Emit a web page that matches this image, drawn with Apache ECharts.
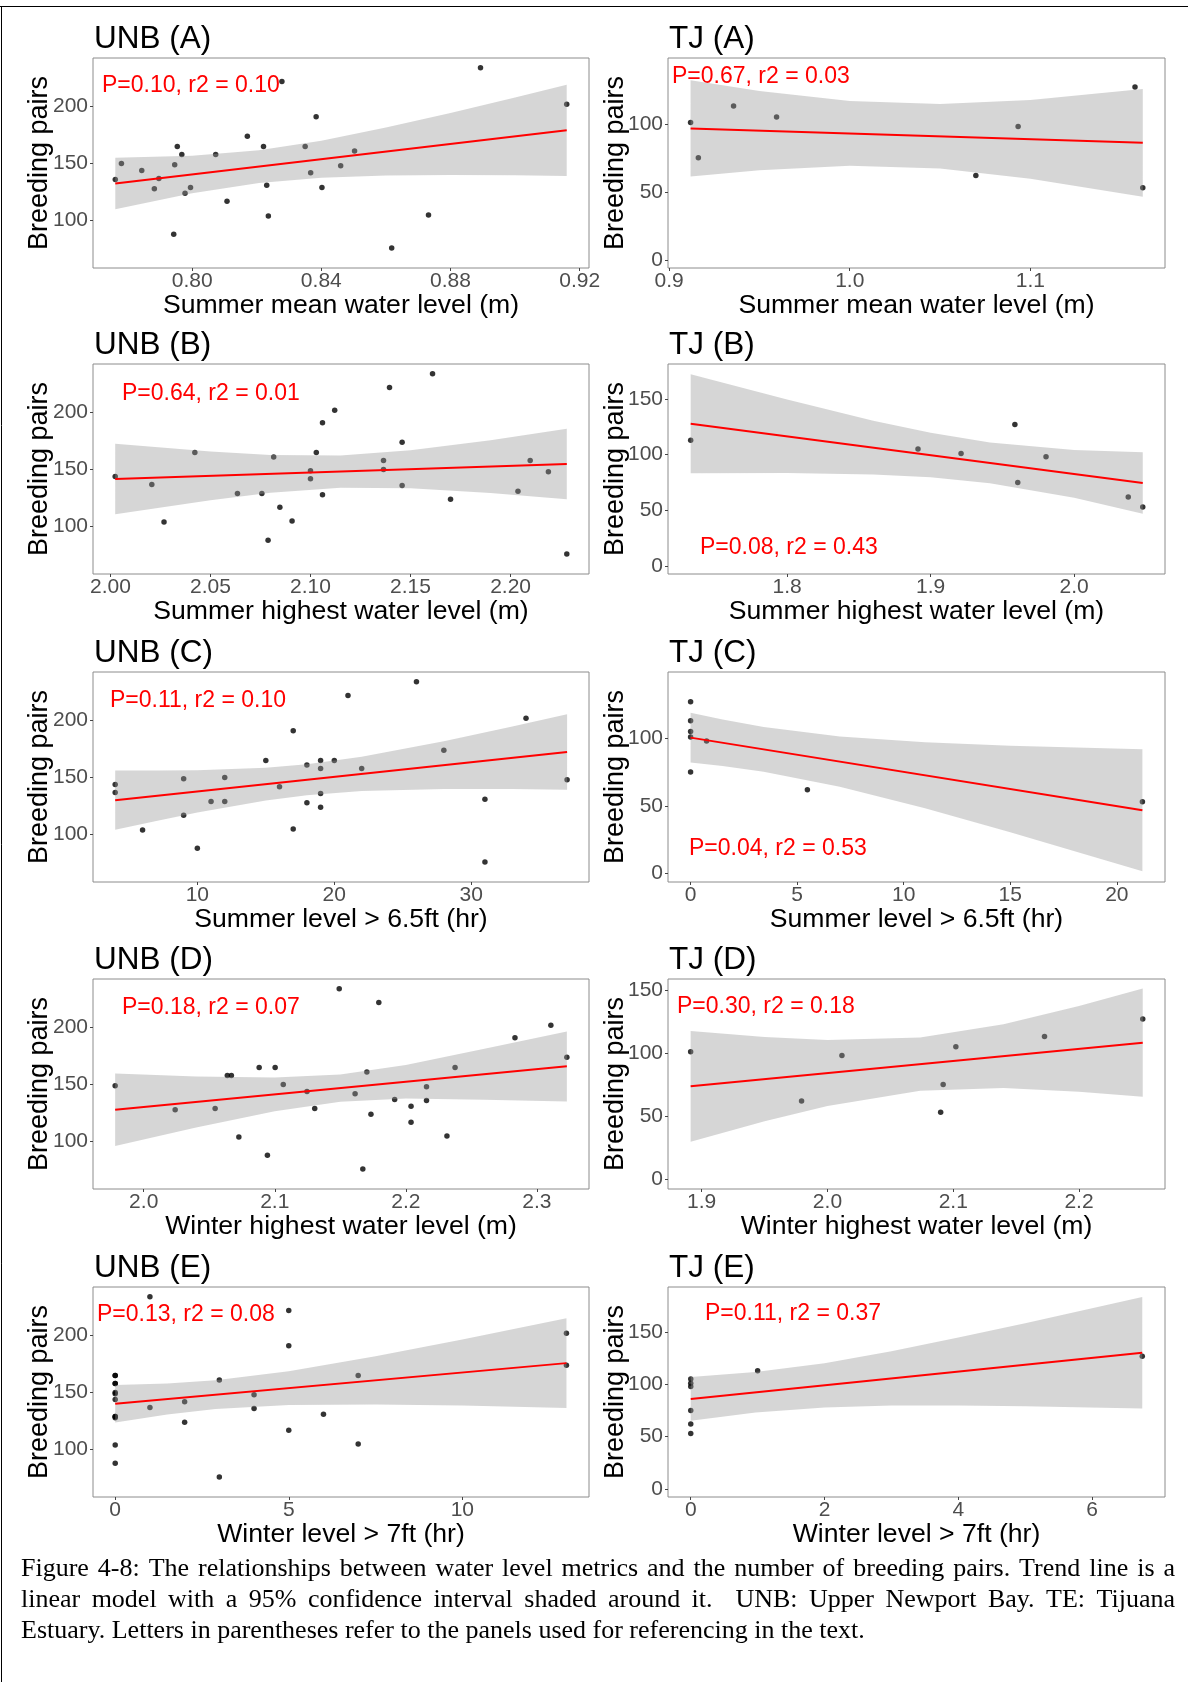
<!DOCTYPE html>
<html><head><meta charset="utf-8">
<script src="https://cdn.jsdelivr.net/npm/echarts@6/dist/echarts.min.js"></script>
<style>html,body{margin:0;padding:0;background:#fff}#c{width:1188px;height:1682px}</style>
</head><body><div id="c"></div><script>
// ---------------- DATA ----------------
// UNB (A) Summer mean water level
const unbA_x = [0.7762,0.7781,0.7844,0.7883,0.7897,0.7946,0.7954,0.7943,0.7968,0.7978,0.7995,0.8073,0.8108,0.8171,0.8221,0.8231,0.8236,0.8278,0.8350,0.8367,0.8384,0.8402,0.8460,0.8503,0.8618,0.8732,0.8893,0.9160];
const unbA_y = [136,150,144,128,137,149,165,88,158,124,129,158,117,174,165,131,104,222,165,142,191,129,148,161,76,105,234,202];
const unbA_fitX = [0.7762,0.916], unbA_fitY = [132.5,179.2];
const unbA_ciX = [0.7762,0.80,0.8207,0.84,0.86,0.88,0.90,0.916];
const unbA_ciHi = [155.1,156.9,161.7,170.0,181.5,194.4,207.8,219.0];
const unbA_ciLo = [109.9,123.9,132.9,137.6,139.5,140.0,139.8,139.2];
const unbA_xRange = [0.7693,0.9229], unbA_xTicks = [0.80,0.84,0.88,0.92];

// TJ (A)
const tjA_x = [0.9119,0.9162,0.9357,0.9595,1.0698,1.0932,1.1579,1.1622];
const tjA_y = [101,75,113,105,62,98,127,53];
const tjA_fitX = [0.9119,1.1622], tjA_fitY = [96.6,86.0];
const tjA_ciX = [0.9119,0.95,1.0,1.05,1.1,1.1622];
const tjA_ciHi = [131.9,124.1,116.7,114.5,117.5,125.5];
const tjA_ciLo = [61.3,65.9,69.1,67.1,59.7,46.5];
const tjA_xRange = [0.8994,1.1745], tjA_xTicks = [0.9,1.0,1.1];
const tjA_yRange = [-5.9,148.3], tjA_yTicks = [0,50,100];

// UNB (B) Summer highest water level
const unbB_x = [2.0024,2.0207,2.0268,2.0422,2.0635,2.0757,2.0788,2.0816,2.0847,2.0908,2.1000,2.1000,2.1029,2.1060,2.1060,2.1121,2.1365,2.1365,2.1395,2.1458,2.1458,2.1610,2.1700,2.2037,2.2098,2.2189,2.2281];
const unbB_y = [144,137,104,165,129,129,88,161,117,105,149,142,165,191,128,202,158,150,222,174,136,234,124,131,158,148,76];
const unbB_fitX = [2.0024,2.2281], unbB_fitY = [141.7,154.8];
const unbB_ciX = [2.0024,2.05,2.08,2.115,2.15,2.19,2.2281];
const unbB_ciHi = [172.6,165.8,162.8,162.4,166.9,175.7,185.7];
const unbB_ciLo = [110.8,123.2,129.6,134.0,133.7,129.5,123.9];
const unbB_xRange = [1.9913,2.2392], unbB_xTicks = [2.00,2.05,2.10,2.15,2.20];

// TJ (B)
const tjB_x = [1.7328,1.8912,1.9212,1.9587,1.9607,1.9804,2.0377,2.0478];
const tjB_y = [113,105,101,127,75,98,62,53];
const tjB_fitX = [1.7328,2.0478], tjB_fitY = [127.8,74.6];
const tjB_ciX = [1.7328,1.8,1.86,1.9,1.9413,2.0,2.0478];
const tjB_ciHi = [172.3,149.5,130.4,119.6,110.8,104.2,102.2];
const tjB_ciLo = [83.3,83.5,82.2,79.6,74.4,61.2,47.0];
const tjB_xRange = [1.717,2.0633], tjB_xTicks = [1.8,1.9,2.0];
const tjB_yRange = [-7.2,181.4], tjB_yTicks = [0,50,100,150];

// UNB (C) Summer level > 6.5ft
const unbC_x = [4,4,6,9,9,10,11,12,12,15,16,17,17,18,18,19,19,19,19,20,21,22,26,28,31,31,34,37];
const unbC_y = [144,137,104,149,117,88,129,150,129,165,142,191,105,161,128,165,158,136,124,165,222,158,234,174,131,76,202,148];
const unbC_fitX = [4,37], unbC_fitY = [130.2,172.4];
const unbC_ciX = [4,7,10,15,18,22,28,33,37];
const unbC_ciHi = [156.2,156.1,156.5,158.7,161.7,168.2,181.8,194.7,205.4];
const unbC_ciLo = [104.2,111.9,119.3,129.9,134.5,138.2,140.0,139.9,139.4];
const unbC_xRange = [2.38,38.6], unbC_xTicks = [10,20,30];

// TJ (C)
const tjC_x = [0,0,0,0,0.75,0,5.48,21.2];
const tjC_y = [127,113,105,101,98,75,62,53];
const tjC_fitX = [0,21.2], tjC_fitY = [100.5,46.7];
const tjC_ciX = [0,1.5,3.43,7,11,15,21.2];
const tjC_ciHi = [119.0,113.9,108.4,101.3,97.0,94.4,91.9];
const tjC_ciLo = [82.0,79.5,75.2,64.1,48.2,30.4,1.5];
const tjC_xRange = [-1.06,22.26], tjC_xTicks = [0,5,10,15,20];
const tjC_yRange = [-6.4,149.1], tjC_yTicks = [0,50,100];

// UNB (D) Winter highest water level
const unbD_x = [1.9782,2.0240,2.0545,2.0638,2.0669,2.0726,2.0881,2.0944,2.1003,2.1065,2.1246,2.1305,2.1492,2.1613,2.1672,2.1703,2.1734,2.1794,2.1915,2.2040,2.2040,2.2158,2.2158,2.2314,2.2376,2.2833,2.3107,2.3229];
const unbD_y = [149,128,129,158,158,104,165,88,165,150,144,129,234,142,76,161,124,222,137,131,117,148,136,105,165,191,202,174];
const unbD_fitX = [1.9782,2.3229], unbD_fitY = [127.9,166.0];
const unbD_ciX = [1.9782,2.04,2.10,2.15,2.20,2.26,2.3229];
const unbD_ciHi = [159.6,157.0,156.1,158.9,167.1,181.3,196.5];
const unbD_ciLo = [96.2,112.4,126.7,134.9,137.7,136.7,135.2];
const unbD_xRange = [1.9613,2.3398], unbD_xTicks = [2.0,2.1,2.2,2.3];

// TJ (D)
const tjD_x = [1.8912,1.9794,2.0115,2.0900,2.0920,2.1021,2.1726,2.2507];
const tjD_y = [101,62,98,53,75,105,113,127];
const tjD_fitX = [1.8912,2.2507], tjD_fitY = [73.6,108.2];
const tjD_ciX = [1.8912,1.95,2.0,2.0737,2.14,2.2,2.2507];
const tjD_ciHi = [117.4,112.7,110.2,112.2,122.7,137.2,151.0];
const tjD_ciLo = [29.8,45.9,58.0,70.2,72.3,69.4,65.4];
const tjD_xRange = [1.8732,2.2684], tjD_xTicks = [1.9,2.0,2.1,2.2];
const tjD_yRange = [-7.7,158.6], tjD_yTicks = [0,50,100,150];

// UNB (E) Winter level > 7ft
const unbE_x = [0,0,0,0,0,0,0,0,0,0,0,0,1,1,2,2,3,3,4,4,5,5,5,6,7,7,13,13];
const unbE_y = [165,165,158,158,150,149,144,129,129,128,104,88,234,137,142,124,161,76,148,136,222,191,117,131,165,105,202,174];
const unbE_fitX = [0,13], unbE_fitY = [140.2,175.8];
const unbE_ciX = [0,1.5,2.89,5,7.5,10,13];
const unbE_ciHi = [156.7,157.9,160.7,168.7,181.8,196.6,215.1];
const unbE_ciLo = [123.7,130.7,135.5,139.1,139.6,138.6,136.5];
const unbE_xRange = [-0.64,13.65], unbE_xTicks = [0,5,10];

// TJ (E)
const tjE_x = [0,0,0,0,0,0,1,6.75];
const tjE_y = [105,101,98,75,62,53,113,127];
const tjE_fitX = [0,6.75], tjE_fitY = [86.0,130.3];
const tjE_ciX = [0,0.969,2,3,4,5,6.75];
const tjE_ciHi = [107.0,111.7,120.3,131.7,144.8,158.5,183.7];
const tjE_ciLo = [65.0,73.1,77.9,79.7,79.8,79.1,76.9];
const tjE_xRange = [-0.34,7.09], tjE_xTicks = [0,2,4,6];
const tjE_yRange = [-7.9,193.2], tjE_yTicks = [0,50,100,150];

// shared UNB y axis
const unb_yRange = [58.5,242.5], unb_yTicks = [100,150,200];

const titles = ['UNB (A)','TJ (A)','UNB (B)','TJ (B)','UNB (C)','TJ (C)','UNB (D)','TJ (D)','UNB (E)','TJ (E)'];
const notes = ['P=0.10, r2 = 0.10','P=0.67, r2 = 0.03','P=0.64, r2 = 0.01','P=0.08, r2 = 0.43','P=0.11, r2 = 0.10','P=0.04, r2 = 0.53','P=0.18, r2 = 0.07','P=0.30, r2 = 0.18','P=0.13, r2 = 0.08','P=0.11, r2 = 0.37'];
const xNames = ['Summer mean water level (m)','Summer highest water level (m)','Summer level > 6.5ft (hr)','Winter highest water level (m)','Winter level > 7ft (hr)'];
const yName = 'Breeding pairs';
const captionLines = [
  'Figure 4-8: The relationships between water level metrics and the number of breeding pairs. Trend line is a',
  'linear model with a 95% confidence interval shaded around it.  UNB: Upper Newport Bay. TE: Tijuana',
  'Estuary. Letters in parentheses refer to the panels used for referencing in the text.'
];

// ---------------- PANEL ASSEMBLY ----------------
const panels = [
  {x:unbA_x,y:unbA_y,fx:unbA_fitX,fy:unbA_fitY,cx:unbA_ciX,ch:unbA_ciHi,cl:unbA_ciLo,xr:unbA_xRange,xt:unbA_xTicks,xd:2,yr:unb_yRange,yt:unb_yTicks},
  {x:tjA_x,y:tjA_y,fx:tjA_fitX,fy:tjA_fitY,cx:tjA_ciX,ch:tjA_ciHi,cl:tjA_ciLo,xr:tjA_xRange,xt:tjA_xTicks,xd:1,yr:tjA_yRange,yt:tjA_yTicks},
  {x:unbB_x,y:unbB_y,fx:unbB_fitX,fy:unbB_fitY,cx:unbB_ciX,ch:unbB_ciHi,cl:unbB_ciLo,xr:unbB_xRange,xt:unbB_xTicks,xd:2,yr:unb_yRange,yt:unb_yTicks},
  {x:tjB_x,y:tjB_y,fx:tjB_fitX,fy:tjB_fitY,cx:tjB_ciX,ch:tjB_ciHi,cl:tjB_ciLo,xr:tjB_xRange,xt:tjB_xTicks,xd:1,yr:tjB_yRange,yt:tjB_yTicks},
  {x:unbC_x,y:unbC_y,fx:unbC_fitX,fy:unbC_fitY,cx:unbC_ciX,ch:unbC_ciHi,cl:unbC_ciLo,xr:unbC_xRange,xt:unbC_xTicks,xd:0,yr:unb_yRange,yt:unb_yTicks},
  {x:tjC_x,y:tjC_y,fx:tjC_fitX,fy:tjC_fitY,cx:tjC_ciX,ch:tjC_ciHi,cl:tjC_ciLo,xr:tjC_xRange,xt:tjC_xTicks,xd:0,yr:tjC_yRange,yt:tjC_yTicks},
  {x:unbD_x,y:unbD_y,fx:unbD_fitX,fy:unbD_fitY,cx:unbD_ciX,ch:unbD_ciHi,cl:unbD_ciLo,xr:unbD_xRange,xt:unbD_xTicks,xd:1,yr:unb_yRange,yt:unb_yTicks},
  {x:tjD_x,y:tjD_y,fx:tjD_fitX,fy:tjD_fitY,cx:tjD_ciX,ch:tjD_ciHi,cl:tjD_ciLo,xr:tjD_xRange,xt:tjD_xTicks,xd:1,yr:tjD_yRange,yt:tjD_yTicks},
  {x:unbE_x,y:unbE_y,fx:unbE_fitX,fy:unbE_fitY,cx:unbE_ciX,ch:unbE_ciHi,cl:unbE_ciLo,xr:unbE_xRange,xt:unbE_xTicks,xd:0,yr:unb_yRange,yt:unb_yTicks},
  {x:tjE_x,y:tjE_y,fx:tjE_fitX,fy:tjE_fitY,cx:tjE_ciX,ch:tjE_ciHi,cl:tjE_ciLo,xr:tjE_xRange,xt:tjE_xTicks,xd:0,yr:tjE_yRange,yt:tjE_yTicks}
];

// ---------------- LAYOUT ----------------
const SANS = '"Liberation Sans", Arial, Helvetica, sans-serif';
const SERIF = '"Liberation Serif", "Times New Roman", serif';
const colLeft = [93, 668], colWidth = [496, 497];
const rowTop = [58, 364, 672, 979, 1287], gridH = 210;
const notePos = [[102,86],[672,77],[122,394],[700,548],[110,701],[689,849],[122,1008],[677,1007],[97,1315],[705,1314]];

const grids = [], xAxes = [], yAxes = [], series = [], graphics = [];

panels.forEach((p, i) => {
  const col = i % 2, row = Math.floor(i / 2);
  grids.push({left: colLeft[col], top: rowTop[row], width: colWidth[col], height: gridH,
    show: true, borderColor: '#8c8c8c', borderWidth: 1, backgroundColor: 'transparent', containLabel: false});
  xAxes.push({type: 'value', gridIndex: i, min: p.xr[0], max: p.xr[1], position: 'bottom',
    axisLine: {show: false, onZero: false}, splitLine: {show: false},
    axisTick: {show: true, inside: false, length: 3, lineStyle: {color: '#444'}, customValues: p.xt},
    axisLabel: {customValues: p.xt, formatter: v => Number(v).toFixed(p.xd), color: '#4d4d4d',
      fontSize: 21, fontFamily: SANS, margin: 3},
    name: xNames[row], nameLocation: 'middle', nameGap: 24, nameMoveOverlap: false,
    nameTextStyle: {fontSize: 26.6, color: '#000', fontFamily: SANS}});
  yAxes.push({type: 'value', gridIndex: i, min: p.yr[0], max: p.yr[1], position: 'left',
    axisLine: {show: false, onZero: false}, splitLine: {show: false},
    axisTick: {show: true, inside: false, length: 3, lineStyle: {color: '#444'}, customValues: p.yt},
    axisLabel: {customValues: p.yt, formatter: v => String(v), color: '#4d4d4d',
      fontSize: 21, fontFamily: SANS, margin: 5},
    name: yName, nameLocation: 'middle', nameGap: col === 0 ? 40 : 39, nameMoveOverlap: false,
    nameTextStyle: {fontSize: 27, color: '#000', fontFamily: SANS}});

  series.push({type: 'scatter', xAxisIndex: i, yAxisIndex: i, z: 1, silent: true,
    symbolSize: 5.5, itemStyle: {color: '#000'},
    data: p.x.map((v, k) => [v, p.y[k]])});
  series.push({type: 'custom', xAxisIndex: i, yAxisIndex: i, z: 2, silent: true,
    data: [[p.cx[0], p.cl[0]]],
    renderItem: (params, api) => {
      const pts = [];
      for (let k = 0; k < p.cx.length; k++) pts.push(api.coord([p.cx[k], p.ch[k]]));
      for (let k = p.cx.length - 1; k >= 0; k--) pts.push(api.coord([p.cx[k], p.cl[k]]));
      return {type: 'polygon', shape: {points: pts}, style: {fill: 'rgba(153,153,153,0.4)', stroke: null}};
    }});
  series.push({type: 'line', xAxisIndex: i, yAxisIndex: i, z: 3, silent: true,
    showSymbol: false, symbol: 'none', lineStyle: {color: '#ff0000', width: 2},
    data: p.fx.map((v, k) => [v, p.fy[k]])});

  // panel title
  graphics.push({type: 'text', x: colLeft[col] + 1, y: rowTop[row] - 19,
    style: {text: titles[i], fill: '#000', font: '31.5px ' + SANS,
      align: 'left', verticalAlign: 'middle', textAlign: 'left', textVerticalAlign: 'middle'}});
  // statistics annotation
  graphics.push({type: 'text', x: notePos[i][0], y: notePos[i][1],
    style: {text: notes[i], fill: '#ff0000', font: '23px ' + SANS,
      align: 'left', verticalAlign: 'middle', textAlign: 'left', textVerticalAlign: 'middle'}});
});

// outer frame (top and left edges visible)
graphics.push({type: 'line', shape: {x1: 0, y1: 6.5, x2: 1188, y2: 6.5}, style: {stroke: '#000', lineWidth: 1}});
graphics.push({type: 'line', shape: {x1: 1.5, y1: 6.5, x2: 1.5, y2: 1682}, style: {stroke: '#000', lineWidth: 1}});

// caption, justified like the source (first two lines)
const capLeft = 21, capRight = 1175, capY = [1569, 1600, 1631];
const mctx = document.createElement('canvas').getContext('2d');
mctx.font = '100px ' + SERIF;
const natural3 = mctx.measureText(captionLines[2]).width;
const capSize = Math.max(20, Math.min(26, 864 / natural3 * 100));
const capFont = capSize.toFixed(2) + 'px ' + SERIF;
mctx.font = capFont;
captionLines.forEach((line, li) => {
  if (li < 2) {
    const words = line.split(' ');
    const widths = words.map(w => mctx.measureText(w).width);
    const total = widths.reduce((a, b) => a + b, 0);
    const gap = (capRight - capLeft - total) / (words.length - 1);
    let xx = capLeft;
    words.forEach((w, k) => {
      if (w) graphics.push({type: 'text', x: xx, y: capY[li],
        style: {text: w, fill: '#000', font: capFont, align: 'left', verticalAlign: 'middle',
          textAlign: 'left', textVerticalAlign: 'middle'}});
      xx += widths[k] + gap;
    });
  } else {
    graphics.push({type: 'text', x: capLeft, y: capY[li],
      style: {text: line, fill: '#000', font: capFont, align: 'left', verticalAlign: 'middle',
        textAlign: 'left', textVerticalAlign: 'middle'}});
  }
});

const chart = echarts.init(document.getElementById('c'), null, {renderer: 'canvas', width: 1188, height: 1682});
chart.setOption({
  animation: false,
  backgroundColor: '#fff',
  grid: grids, xAxis: xAxes, yAxis: yAxes, series: series,
  graphic: {elements: graphics}
});
</script></body></html>
